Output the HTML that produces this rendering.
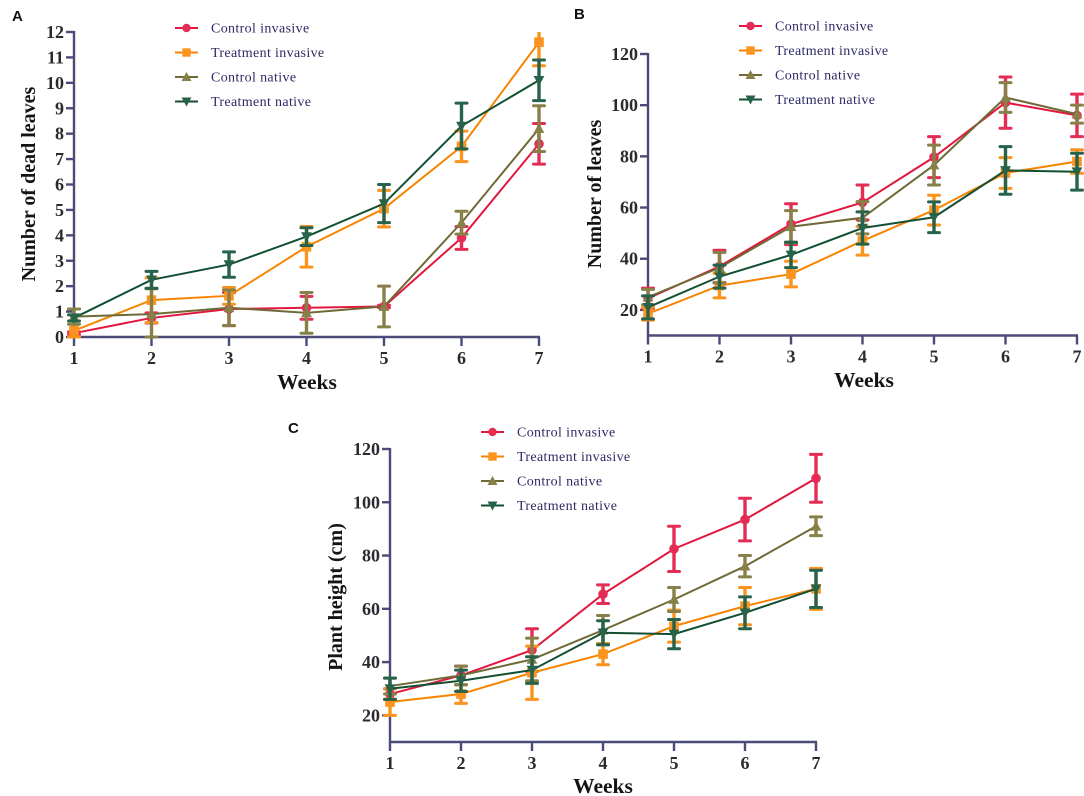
<!DOCTYPE html>
<html lang="en">
<head>
<meta charset="utf-8">
<title>Growth responses of invasive and native plants</title>
<style>
html,body{margin:0;padding:0;background:#fff;width:1084px;height:796px;overflow:hidden}
svg{display:block}
text{font-family:"Liberation Serif",serif}
.tick{font-weight:bold;font-size:18px;fill:#2b2b2f}
.axis-title{font-weight:bold;fill:#141414}
.legend-text{font-size:14px;fill:#2d2a63;letter-spacing:.35px}
.panel{font-family:"Liberation Sans",sans-serif;font-weight:bold;font-size:15px;fill:#111}
</style>
</head>
<body>
<svg id="figure" xmlns="http://www.w3.org/2000/svg" width="1084" height="796" viewBox="0 0 1084 796"></svg>
<script>
const weeks = [1, 2, 3, 4, 5, 6, 7];
const seriesNames = ['Control invasive', 'Treatment invasive', 'Control native', 'Treatment native'];

const deadTicks = [0, 1, 2, 3, 4, 5, 6, 7, 8, 9, 10, 11, 12];
const deadControlInvasive = [0.15, 0.75, 1.1, 1.15, 1.2, 3.9, 7.6];
const deadControlInvasiveErr = [0.05, 0.2, 0.65, 0.45, 0.05, 0.45, 0.8];
const deadTreatmentInvasive = [0.25, 1.45, 1.62, 3.55, 5.05, 7.5, 11.6];
const deadTreatmentInvasiveErr = [0.85, 0.88, 0.33, 0.8, 0.72, 0.6, 0.93];
const deadControlNative = [0.8, 0.9, 1.15, 0.95, 1.2, 4.5, 8.2];
const deadControlNativeErr = [0.3, 1.0, 0.7, 0.8, 0.8, 0.45, 0.9];
const deadTreatmentNative = [0.75, 2.25, 2.85, 3.95, 5.25, 8.3, 10.1];
const deadTreatmentNativeErr = [0.12, 0.33, 0.5, 0.35, 0.75, 0.9, 0.8];

const leafTicks = [20, 40, 60, 80, 100, 120];
const leafControlInvasive = [24.5, 37, 53.5, 62, 79.7, 101, 96];
const leafControlInvasiveErr = [4, 6.3, 8, 6.8, 8, 10, 8.3];
const leafTreatmentInvasive = [18.5, 29.5, 34, 47, 59, 73.5, 78];
const leafTreatmentInvasiveErr = [2.5, 4.8, 5, 5.6, 5.8, 6, 4.6];
const leafControlNative = [25, 36.5, 52.5, 56, 76.6, 103, 96.5];
const leafControlNativeErr = [3, 6, 6.3, 6.3, 7.8, 5.8, 3.5];
const leafTreatmentNative = [21, 33, 41.5, 52, 56.2, 74.5, 74];
const leafTreatmentNativeErr = [4.5, 4.5, 5, 6.3, 6, 9.3, 7.2];

const heightTicks = [20, 40, 60, 80, 100, 120];
const heightControlInvasive = [28, 35, 44.5, 65.5, 82.5, 93.5, 109];
const heightControlInvasiveErr = [2, 3.5, 8, 3.5, 8.5, 8, 9];
const heightTreatmentInvasive = [25, 28, 36, 43, 53.5, 61, 67.5];
const heightTreatmentInvasiveErr = [5, 3.5, 10, 4, 6, 7, 7.7];
const heightControlNative = [31, 35, 41, 52, 63.5, 76, 91];
const heightControlNativeErr = [3, 3.5, 8, 5.5, 4.5, 4, 3.5];
const heightTreatmentNative = [30, 33, 37, 51, 50.5, 58.5, 67.5];
const heightTreatmentNativeErr = [4, 4, 5, 4.5, 5.5, 6, 7];

const lineColors = ['#e2173f', '#f78400', '#6f6a35', '#124f33'];
const markColors = ['#e42c55', '#fa941f', '#878048', '#27634a'];
const markerKinds = ['circle', 'square', 'up', 'down'];
const svg = document.getElementById('figure');
const NS = 'http://www.w3.org/2000/svg';

function add(parent, tag, attrs, txt) {
  const el = document.createElementNS(NS, tag);
  for (const k in attrs) el.setAttribute(k, attrs[k]);
  if (txt !== undefined) el.textContent = txt;
  parent.appendChild(el);
  return el;
}

function drawMarker(parent, kind, cx, cy, color, r) {
  let m;
  if (kind === 'circle') {
    m = add(parent, 'circle', {cx: cx, cy: cy, r: r, fill: color});
  } else if (kind === 'square') {
    m = add(parent, 'rect', {x: cx - r, y: cy - r, width: 2 * r, height: 2 * r, fill: color});
  } else if (kind === 'up') {
    m = add(parent, 'polygon', {points: (cx - r) + ',' + (cy + r * 0.8) + ' ' + (cx + r) + ',' + (cy + r * 0.8) + ' ' + cx + ',' + (cy - r), fill: color});
  } else {
    m = add(parent, 'polygon', {points: (cx - r) + ',' + (cy - r * 0.8) + ' ' + (cx + r) + ',' + (cy - r * 0.8) + ' ' + cx + ',' + (cy + r), fill: color});
  }
  
  
  return m;
}

function drawPanel(cfg) {
  const panel = add(svg, 'g', {});
  
  

  const sx = w => cfg.x0 + (w - weeks[0]) * (cfg.x1 - cfg.x0) / (weeks[weeks.length - 1] - weeks[0]);
  const sy = v => cfg.y0 + (v - cfg.yMin) * (cfg.y1 - cfg.y0) / (cfg.yMax - cfg.yMin);

  const label = add(panel, 'text', {x: cfg.lx, y: cfg.ly, class: 'panel'}, cfg.id);
  
  

  // axes
  const axes = add(panel, 'g', {stroke: '#4b4a78', 'stroke-width': 2.4, fill: 'none'});
  
  
  const yLine = add(axes, 'line', {x1: cfg.x0, x2: cfg.x0, y1: sy(cfg.yMax) - 1, y2: cfg.y0 + 1});
  
  
  const xLine = add(axes, 'line', {x1: cfg.x0 - 1, x2: cfg.x1 + 1, y1: cfg.y0, y2: cfg.y0});
  
  

  cfg.ticks.forEach(t => {
    const tk = add(axes, 'line', {x1: cfg.x0 - 8, x2: cfg.x0, y1: sy(t), y2: sy(t)});
    
    
    const tl = add(panel, 'text', {x: cfg.x0 - 10, y: sy(t) + 6, 'text-anchor': 'end', class: 'tick'}, t);
    
    
  });
  weeks.forEach(w => {
    const tk = add(axes, 'line', {x1: sx(w), x2: sx(w), y1: cfg.y0, y2: cfg.y0 + 9});
    
    
    const tl = add(panel, 'text', {x: sx(w), y: cfg.y0 + cfg.xLabelDy, 'text-anchor': 'middle', class: 'tick'}, w);
    
    
  });

  const xt = add(panel, 'text', {x: cfg.xtx, y: cfg.xty, 'text-anchor': 'middle', class: 'axis-title', 'font-size': 21.5}, 'Weeks');
  
  
  const yt = add(panel, 'text', {x: 0, y: 0, transform: 'translate(' + cfg.ytx + ',' + cfg.yty + ') rotate(-90)', 'text-anchor': 'middle', class: 'axis-title', 'font-size': 20}, cfg.yTitle);
  
  

  // series
  cfg.means.forEach((vals, i) => {
    const g = add(panel, 'g', {});
    
    
    const pts = vals.map((v, j) => sx(weeks[j]) + ',' + sy(v)).join(' ');
    const ln = add(g, 'polyline', {points: pts, fill: 'none', stroke: lineColors[i], 'stroke-width': 2});
    
    
    vals.forEach((v, j) => {
      const e = cfg.errs[i][j];
      const cx = sx(weeks[j]);
      const hi = Math.min(v + e, cfg.yMax);
      const lo = Math.max(v - e, cfg.yMin);
      const bar = add(g, 'line', {x1: cx, x2: cx, y1: sy(hi), y2: sy(lo), stroke: markColors[i], 'stroke-width': 3.4});
      
      
      if (v + e <= cfg.yMax) {
        const c1 = add(g, 'line', {x1: cx - 5.5, x2: cx + 5.5, y1: sy(hi), y2: sy(hi), stroke: markColors[i], 'stroke-width': 3, 'stroke-linecap': 'round'});
        
        
      }
      const c2 = add(g, 'line', {x1: cx - 5.5, x2: cx + 5.5, y1: sy(lo), y2: sy(lo), stroke: markColors[i], 'stroke-width': 3, 'stroke-linecap': 'round'});
      
      
      drawMarker(g, markerKinds[i], cx, sy(v), markColors[i], i === 2 || i === 3 ? 5.4 : 4.8);
    });
  });

  // legend
  const lg = add(panel, 'g', {});
  
  
  seriesNames.forEach((n, i) => {
    const ly = cfg.legY + i * 24.5;
    const entry = add(lg, 'g', {});
    
    
    const sw = add(entry, 'line', {x1: cfg.legX, x2: cfg.legX + 23, y1: ly, y2: ly, stroke: lineColors[i], 'stroke-width': 2});
    
    
    drawMarker(entry, markerKinds[i], cfg.legX + 11.5, ly, markColors[i], i === 2 || i === 3 ? 5 : 4.2);
    const t = add(entry, 'text', {x: cfg.legX + 36, y: ly + 4.5, class: 'legend-text'}, n);
    
    
  });
}

drawPanel({
  id: 'A', lx: 12, ly: 21, x0: 74, x1: 539, y0: 337, y1: 32, yMin: 0, yMax: 12,
  ticks: deadTicks, xLabelDy: 27,
  means: [deadControlInvasive, deadTreatmentInvasive, deadControlNative, deadTreatmentNative],
  errs: [deadControlInvasiveErr, deadTreatmentInvasiveErr, deadControlNativeErr, deadTreatmentNativeErr],
  xtx: 307, xty: 389, ytx: 35, yty: 184, yTitle: 'Number of dead leaves',
  legX: 175, legY: 28
});
drawPanel({
  id: 'B', lx: 574, ly: 19, x0: 648, x1: 1077, y0: 335.5, y1: 54, yMin: 10, yMax: 120,
  ticks: leafTicks, xLabelDy: 27,
  means: [leafControlInvasive, leafTreatmentInvasive, leafControlNative, leafTreatmentNative],
  errs: [leafControlInvasiveErr, leafTreatmentInvasiveErr, leafControlNativeErr, leafTreatmentNativeErr],
  xtx: 864, xty: 387, ytx: 601, yty: 194, yTitle: 'Number of leaves',
  legX: 739, legY: 26
});
drawPanel({
  id: 'C', lx: 288, ly: 433, x0: 390, x1: 816, y0: 742, y1: 449, yMin: 10, yMax: 120,
  ticks: heightTicks, xLabelDy: 27,
  means: [heightControlInvasive, heightTreatmentInvasive, heightControlNative, heightTreatmentNative],
  errs: [heightControlInvasiveErr, heightTreatmentInvasiveErr, heightControlNativeErr, heightTreatmentNativeErr],
  xtx: 603, xty: 793, ytx: 342, yty: 597, yTitle: 'Plant height (cm)',
  legX: 481, legY: 432
});
</script>
</body>
</html>
